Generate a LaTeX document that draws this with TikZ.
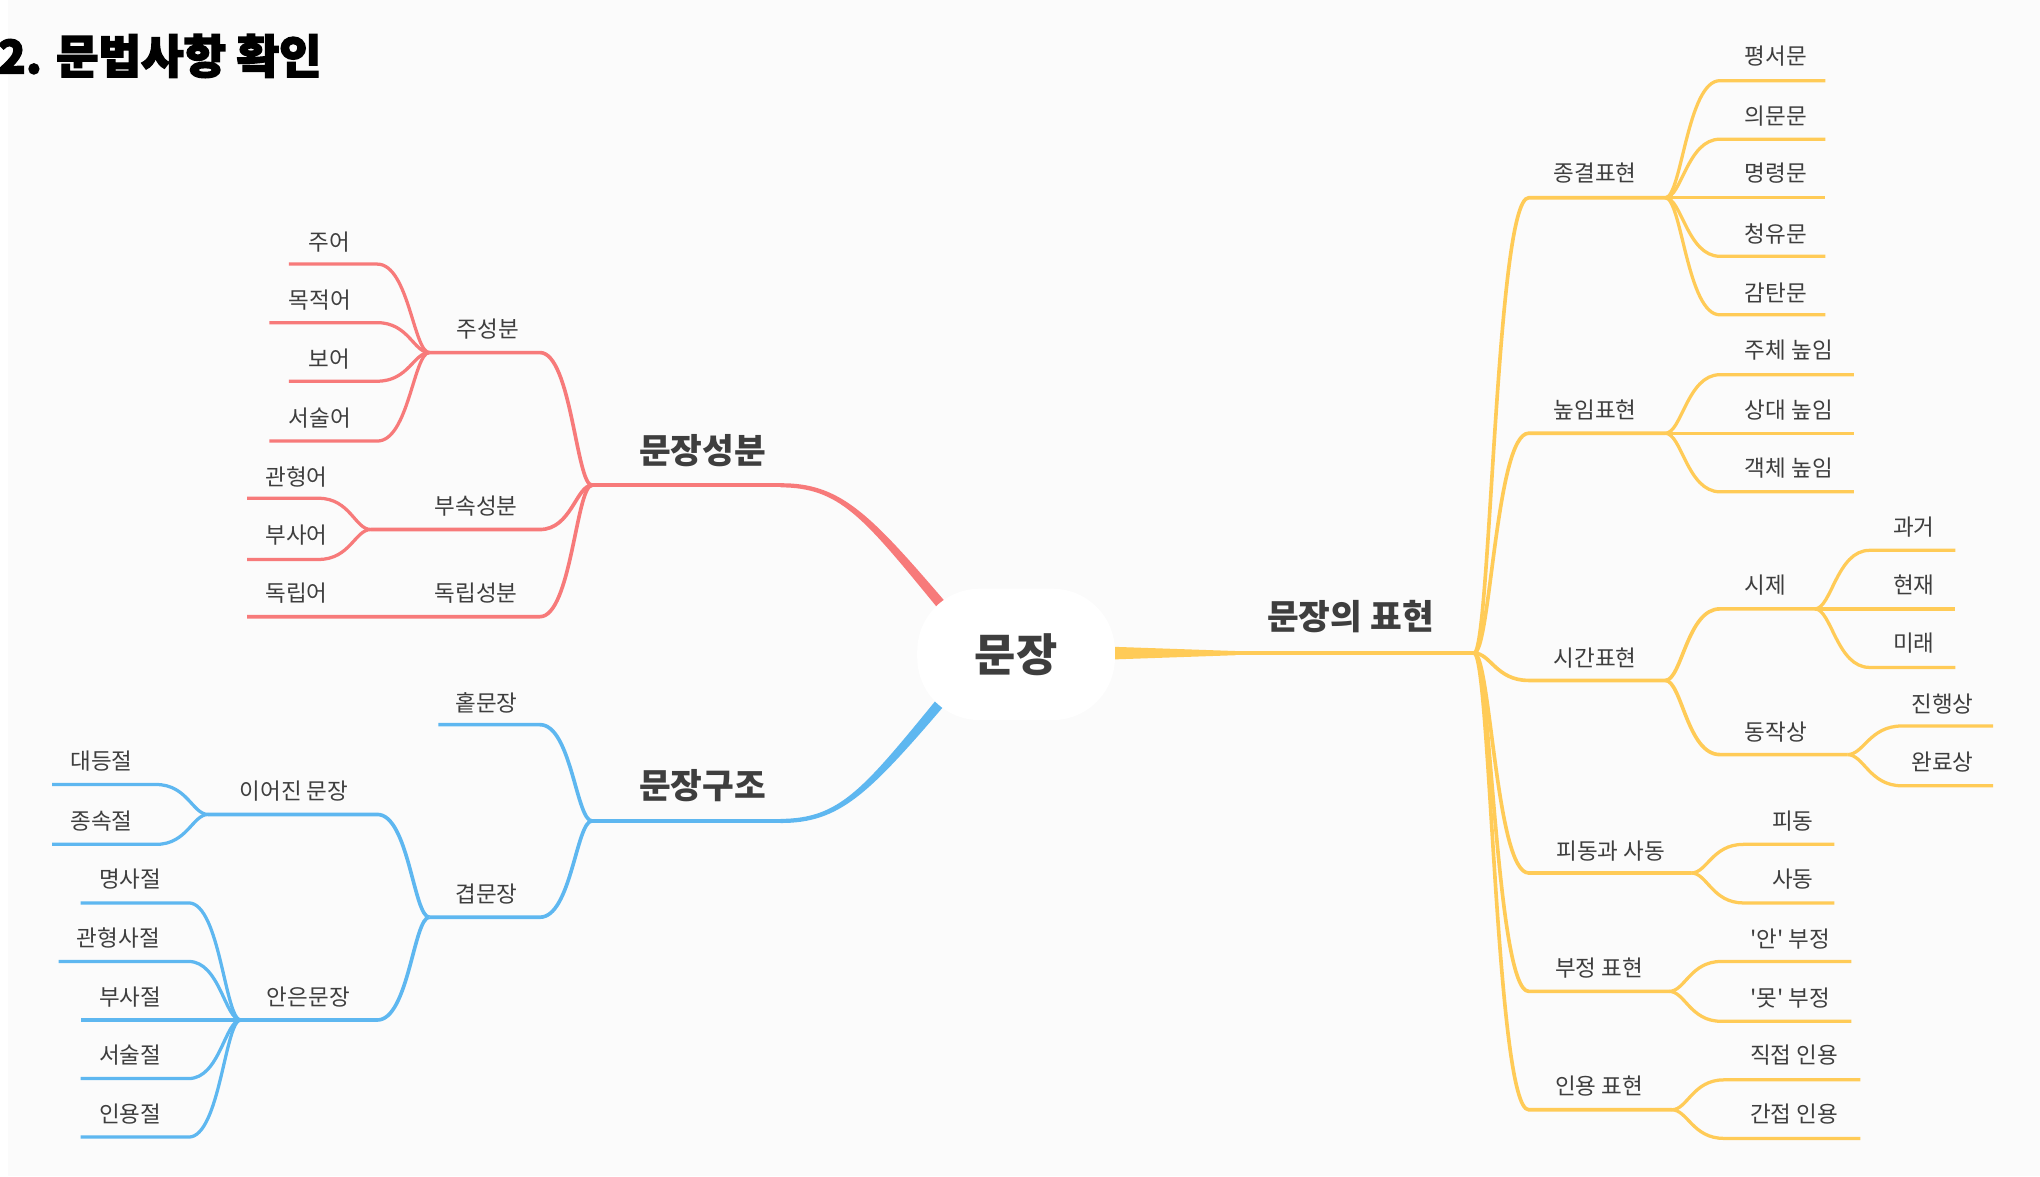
\documentclass[tikz,border=0pt]{standalone}
\usepackage{fontspec}
\newfontfamily\kr{Noto Sans CJK KR}
\newfontfamily\krtitle[BoldFeatures={FakeBold=3}]{Noto Sans CJK KR}
\usetikzlibrary{calc}
\definecolor{bgc}{HTML}{FBFBFB}
\definecolor{redc}{HTML}{F77A7A}
\definecolor{bluec}{HTML}{5EB7F0}
\definecolor{yelc}{HTML}{FFCB57}
\definecolor{txt}{HTML}{3E3E3E}
\pgfdeclarelayer{back}
\pgfdeclarelayer{lines}
\pgfsetlayers{back,lines,main}
\newcommand\lf[5]{\draw[#1] (#2) to[sc] (#3,#5) -- (#4,#5);}
\begin{document}
\begin{tikzpicture}[x=1pt,y=-1pt,
  lbl/.style={font=\kr\fontsize{17.3}{19}\selectfont, text=txt, inner sep=0pt},
  bigl/.style={font=\kr\bfseries\fontsize{26.5}{28}\selectfont, text=txt, inner sep=0pt},
  sc/.style={to path={let \p1=(\tikztostart), \p2=(\tikztotarget) in .. controls ({\x1+0.3*(\x2-\x1)},\y1) and ({\x1+0.4*(\x2-\x1)},\y2) .. (\tikztotarget)}},
  rsub/.style={draw=redc, line width=2.8pt, line join=round},
  rleaf/.style={draw=redc, line width=2.5pt, line join=round},
  bsub/.style={draw=bluec, line width=2.8pt, line join=round},
  bleaf/.style={draw=bluec, line width=2.5pt, line join=round},
  ysub/.style={draw=yelc, line width=2.8pt, line join=round},
  yleaf/.style={draw=yelc, line width=2.5pt, line join=round},
]
\useasboundingbox (0,0) rectangle (1568,904);
\begin{pgfonlayer}{back}
\fill[bgc] (0,0) rectangle (1568,904);
\fill[white] (0,0) rectangle (6,904);
\end{pgfonlayer}

% title
\node[font=\krtitle\bfseries\fontsize{35.5}{38}\selectfont, text=black, anchor=west, inner sep=0pt] (title) at (-2,43) {2. 문법사항 확인};

% central node
\node[fill=white, rounded corners=48pt, minimum width=152pt, minimum height=101pt, inner sep=0pt,
  font=\kr\bfseries\fontsize{34.5}{37}\selectfont, text=txt] (C) at (781,503) {문장};

\coordinate (R) at (455,373);
\coordinate (B) at (455,631);
\coordinate (Y) at (1133,502);

\begin{pgfonlayer}{lines}
% main connectors (tapered towards the centre)
\draw[draw=redc, line width=3.2pt] (R) -- (601,373);
\fill[redc] (600,371.4) .. controls (645,371.3) and (667.1,393.2) .. (724.9,460.6) -- (731.3,468.3) -- (725.5,473.1) -- (719.1,465.4) .. controls (662.9,396.8) and (645,374.8) .. (600,374.6) -- cycle;
\draw[draw=bluec, line width=3.2pt] (B) -- (601,631);
\fill[bluec] (600,632.6) .. controls (645,632.7) and (667.1,610.8) .. (724.9,543.4) -- (731.3,535.7) -- (725.5,530.9) -- (719.1,538.6) .. controls (662.9,607.2) and (645,629.2) .. (600,629.4) -- cycle;
\fill[yelc] (840,496.6) -- (950,500.4) -- (950,503.6) -- (840,507.4) -- cycle;
\draw[draw=yelc, line width=3.2pt] (948,502) -- (Y);

% red branch
\draw[rsub] (R) to[sc] (415,271) -- (330,271) coordinate (R1);
\draw[rsub] (R) to[sc] (415,407) -- (285,407) coordinate (R2);
\draw[rsub] (R) to[sc] (415,474) -- (190,474);
\lf{rleaf}{R1}{290}{222}{203}
\lf{rleaf}{R1}{290}{207}{248}
\lf{rleaf}{R1}{290}{222}{293}
\lf{rleaf}{R1}{290}{207}{339}
\lf{rleaf}{R2}{245}{190}{383}
\lf{rleaf}{R2}{245}{190}{430}

% blue branch
\draw[bsub] (B) to[sc] (415,557) -- (337,557);
\draw[bsub] (B) to[sc] (415,705) -- (330,705) coordinate (B1);
\draw[bsub] (B1) to[sc] (290,626) -- (160,626) coordinate (B2);
\draw[bsub] (B1) to[sc] (290,784) -- (185,784) coordinate (B3);
\lf{bleaf}{B2}{120}{40}{603}
\lf{bleaf}{B2}{120}{40}{649}
\lf{bleaf}{B3}{145}{62}{694}
\lf{bleaf}{B3}{145}{45}{739}
\lf{bleaf}{B3}{145}{62}{784}
\lf{bleaf}{B3}{145}{62}{829}
\lf{bleaf}{B3}{145}{62}{874}

% yellow branch
\draw[ysub] (Y) to[sc] (1175,152) -- (1280,152) coordinate (Y1);
\draw[ysub] (Y) to[sc] (1175,333) -- (1280,333) coordinate (Y2);
\draw[ysub] (Y) to[sc] (1175,523) -- (1280,523) coordinate (Y3);
\draw[ysub] (Y) to[sc] (1175,671) -- (1300,671) coordinate (Y4);
\draw[ysub] (Y) to[sc] (1175,762) -- (1283,762) coordinate (Y5);
\draw[ysub] (Y) to[sc] (1175,853) -- (1285,853) coordinate (Y6);
\draw[ysub] (Y3) to[sc] (1322,468) -- (1395,468) coordinate (Y31);
\draw[ysub] (Y3) to[sc] (1322,580) -- (1420,580) coordinate (Y32);
\lf{yleaf}{Y1}{1322}{1403}{62}
\lf{yleaf}{Y1}{1322}{1403}{107}
\lf{yleaf}{Y1}{1322}{1403}{152}
\lf{yleaf}{Y1}{1322}{1403}{197}
\lf{yleaf}{Y1}{1322}{1403}{242}
\lf{yleaf}{Y2}{1322}{1425}{288}
\lf{yleaf}{Y2}{1322}{1425}{333}
\lf{yleaf}{Y2}{1322}{1425}{378}
\lf{yleaf}{Y31}{1437}{1503}{423}
\lf{yleaf}{Y31}{1437}{1503}{468}
\lf{yleaf}{Y31}{1437}{1503}{513}
\lf{yleaf}{Y32}{1462}{1532}{558}
\lf{yleaf}{Y32}{1462}{1532}{604}
\lf{yleaf}{Y4}{1340}{1410}{649}
\lf{yleaf}{Y4}{1340}{1410}{694}
\lf{yleaf}{Y5}{1323}{1423}{739}
\lf{yleaf}{Y5}{1323}{1423}{785}
\lf{yleaf}{Y6}{1325}{1430}{830}
\lf{yleaf}{Y6}{1325}{1430}{875}
\end{pgfonlayer}

% main labels
\node[bigl] (m1) at (540,346) {문장성분};
\node[bigl] (m2) at (540,604) {문장구조};
\node[bigl] (m3) at (1038,474) {문장의 표현};

% red labels
\node[lbl] (r1) at (375,253) {주성분};
\node[lbl] (r11) at (253,186) {주어};
\node[lbl] (r12) at (246,231) {목적어};
\node[lbl] (r13) at (253,276) {보어};
\node[lbl] (r14) at (246,321) {서술어};
\node[lbl] (r2) at (366,389) {부속성분};
\node[lbl] (r21) at (228,367) {관형어};
\node[lbl] (r22) at (228,411) {부사어};
\node[lbl] (r3) at (366,456) {독립성분};
\node[lbl] (r31) at (228,456) {독립어};

% blue labels
\node[lbl] (b1) at (374,540) {홑문장};
\node[lbl] (b2) at (374,687) {겹문장};
\node[lbl] (b21) at (226,608) {이어진 문장};
\node[lbl] (b211) at (78,585) {대등절};
\node[lbl] (b212) at (78,631) {종속절};
\node[lbl] (b22) at (237,766) {안은문장};
\node[lbl] (b221) at (100,676) {명사절};
\node[lbl] (b222) at (91,721) {관형사절};
\node[lbl] (b223) at (100,766) {부사절};
\node[lbl] (b224) at (100,811) {서술절};
\node[lbl] (b225) at (100,856) {인용절};

% yellow labels
\node[lbl] (y1) at (1226,133) {종결표현};
\node[lbl] (y11) at (1365,43) {평서문};
\node[lbl] (y12) at (1365,89) {의문문};
\node[lbl] (y13) at (1365,133) {명령문};
\node[lbl] (y14) at (1365,180) {청유문};
\node[lbl] (y15) at (1365,225) {감탄문};
\node[lbl] (y2) at (1226,315) {높임표현};
\node[lbl] (y21) at (1375,269) {주체 높임};
\node[lbl] (y22) at (1375,315) {상대 높임};
\node[lbl] (y23) at (1375,360) {객체 높임};
\node[lbl] (y3) at (1226,506) {시간표현};
\node[lbl] (y31) at (1357,450) {시제};
\node[lbl] (y311) at (1471,405) {과거};
\node[lbl] (y312) at (1471,450) {현재};
\node[lbl] (y313) at (1471,494) {미래};
\node[lbl] (y32) at (1365,563) {동작상};
\node[lbl] (y321) at (1493,541) {진행상};
\node[lbl] (y322) at (1493,586) {완료상};
\node[lbl] (y4) at (1238,654) {피동과 사동};
\node[lbl] (y41) at (1378,631) {피동};
\node[lbl] (y42) at (1378,676) {사동};
\node[lbl] (y5) at (1229,744) {부정 표현};
\node[lbl] (y51) at (1376,722) {'안' 부정};
\node[lbl] (y52) at (1376,767) {'못' 부정};
\node[lbl] (y6) at (1229,835) {인용 표현};
\node[lbl] (y61) at (1379,811) {직접 인용};
\node[lbl] (y62) at (1379,856) {간접 인용};
\end{tikzpicture}
\end{document}
